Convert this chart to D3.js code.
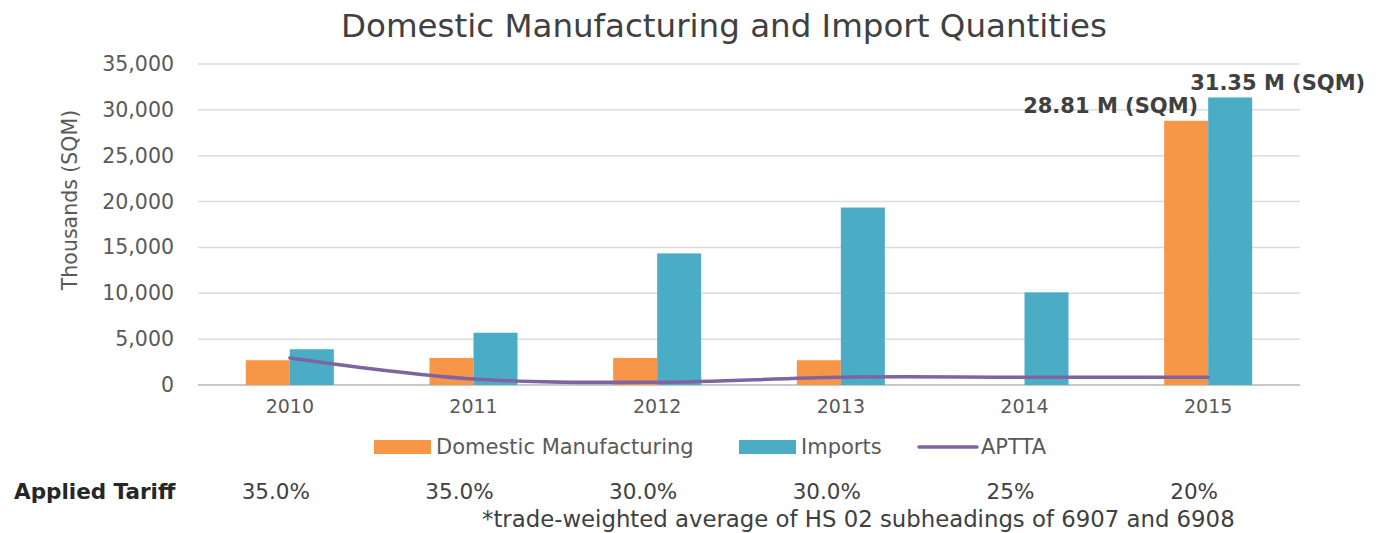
<!DOCTYPE html>
<html>
<head>
<meta charset="utf-8">
<script src="https://cdn.jsdelivr.net/npm/d3@7"></script>
<style>
  body { margin: 0; background: #ffffff; }
  text { font-family: "DejaVu Sans", sans-serif; }
</style>
</head>
<body>
<svg id="chart"></svg>
<script>
const width = 1383, height = 533
const margin = {
    top: 64,
    bottom: 148,
    left: 198,
    right: 83,
}

// data (thousands of SQM)
const years = ["2010", "2011", "2012", "2013", "2014", "2015"]
const domestic = [2700, 2950, 2950, 2700, 0, 28810]
const imports = [3900, 5700, 14350, 19350, 10100, 31350]
const aptta = [2950, 650, 300, 850, 850, 850]
const tariffs = ["35.0%", "35.0%", "30.0%", "30.0%", "25%", "20%"]
const yTicks = [0, 5000, 10000, 15000, 20000, 25000, 30000, 35000]
const seriesNames = ["Domestic Manufacturing", "Imports"]

const colors = {
    "Domestic Manufacturing": "#f79646",
    "Imports": "#4bacc6",
    "APTTA": "#8064a2",
}

const svg = d3.select("svg#chart")
    .attr("width", width)
    .attr("height", height)
    .attr("viewBox", [0, 0, width, height])

const xScale = d3.scaleBand()
    .domain(years)
    .range([margin.left, width - margin.right])
    .padding(0)

const bw = xScale.bandwidth()
const barW = 44

const xSub = d3.scaleBand()
    .domain(seriesNames)
    .range([bw / 2 - barW, bw / 2 + barW])

const yScale = d3.scaleLinear()
    .domain([0, 35000])
    .range([height - margin.bottom, margin.top])

// gridlines
svg.append("g")
    .selectAll("line")
    .data(yTicks)
    .join("line")
    .attr("x1", margin.left)
    .attr("x2", width - margin.right)
    .attr("y1", d => yScale(d))
    .attr("y2", d => yScale(d))
    .attr("stroke", d => d === 0 ? "#c8c8c8" : "#dcdcdc")
    .attr("stroke-width", d => d === 0 ? 2 : 1.5)

// y axis labels
const yAxis = svg.append("g")
    .attr("transform", `translate(${margin.left - 21}, 0)`)
    .call(d3.axisLeft(yScale).tickValues(yTicks).tickFormat(d3.format(",")).tickSize(0))
yAxis.select(".domain").remove()
yAxis.selectAll("text")
    .attr("font-family", "DejaVu Sans")
    .attr("font-size", 20.5)
    .attr("fill", "#595959")

svg.append("text")
    .attr("transform", `translate(77, 200) rotate(-90)`)
    .attr("text-anchor", "middle")
    .attr("font-size", 20.5)
    .attr("fill", "#595959")
    .text("Thousands (SQM)")

// x axis labels
const xAxis = svg.append("g")
    .attr("transform", `translate(0, ${yScale(0) + 11})`)
    .call(d3.axisBottom(xScale).tickSize(0))
xAxis.select(".domain").remove()
xAxis.selectAll("text")
    .attr("font-family", "DejaVu Sans")
    .attr("font-size", 19)
    .attr("fill", "#595959")

// bars
const rows = years.map((y, i) => ({
    year: y,
    values: [
        { key: "Domestic Manufacturing", value: domestic[i] },
        { key: "Imports", value: imports[i] },
    ],
}))

svg.append("g")
    .selectAll("g.bar")
    .data(rows)
    .join("g").attr("class", "bar")
    .attr("transform", d => `translate(${xScale(d.year)}, 0)`)
    .selectAll("rect")
    .data(d => d.values)
    .join("rect")
    .attr("x", d => xSub(d.key))
    .attr("width", xSub.bandwidth())
    .attr("y", d => yScale(d.value))
    .attr("height", d => yScale(0) - yScale(d.value))
    .attr("fill", d => colors[d.key])

// APTTA line
const line = d3.line()
    .x((d, i) => xScale(years[i]) + bw / 2)
    .y(d => yScale(d))
    .curve(d3.curveCatmullRom.alpha(0.5))

svg.append("path")
    .datum(aptta)
    .attr("d", line)
    .attr("fill", "none")
    .attr("stroke", colors["APTTA"])
    .attr("stroke-width", 3.5)
    .attr("stroke-linecap", "round")

// 2015 callouts
const last = years.length - 1
svg.append("text")
    .attr("x", xScale(years[last]) + xSub("Imports") - 18)
    .attr("y", yScale(imports[last]) - 7)
    .attr("font-size", 21)
    .attr("font-weight", "bold")
    .attr("fill", "#404040")
    .text("31.35 M (SQM)")

svg.append("text")
    .attr("x", xScale(years[last]) + xSub("Domestic Manufacturing") + xSub.bandwidth() - 10)
    .attr("y", yScale(domestic[last]) - 8)
    .attr("text-anchor", "end")
    .attr("font-size", 21)
    .attr("font-weight", "bold")
    .attr("fill", "#404040")
    .text("28.81 M (SQM)")

// title
svg.append("text")
    .attr("x", 724)
    .attr("y", 37)
    .attr("text-anchor", "middle")
    .attr("font-family", "Open Sans")
    .attr("font-size", 32.5)
    .attr("fill", "#404040")
    .text("Domestic Manufacturing and Import Quantities")

// legend
const legendItems = [
    { key: "Domestic Manufacturing", x: 374, type: "rect" },
    { key: "Imports", x: 739, type: "rect" },
    { key: "APTTA", x: 919, type: "line" },
]
const legendY = 447

const legend = svg.append("g")
    .selectAll("g.legend")
    .data(legendItems)
    .join("g").attr("class", "legend")

legend.filter(d => d.type === "rect")
    .append("rect")
    .attr("x", d => d.x)
    .attr("y", legendY - 7)
    .attr("width", 57)
    .attr("height", 14)
    .attr("fill", d => colors[d.key])

legend.filter(d => d.type === "line")
    .append("line")
    .attr("x1", d => d.x)
    .attr("x2", d => d.x + 58)
    .attr("y1", legendY)
    .attr("y2", legendY)
    .attr("stroke", d => colors[d.key])
    .attr("stroke-width", 3.5)
    .attr("stroke-linecap", "round")

legend.append("text")
    .attr("x", d => d.x + 62)
    .attr("y", legendY + 7)
    .attr("font-size", 21)
    .attr("fill", "#595959")
    .text(d => d.key)

// applied tariff row
svg.append("text")
    .attr("x", 14)
    .attr("y", 499)
    .attr("font-size", 21.5)
    .attr("font-weight", "bold")
    .attr("fill", "#262626")
    .text("Applied Tariff")

svg.append("g")
    .selectAll("text")
    .data(tariffs)
    .join("text")
    .attr("x", (d, i) => xScale(years[i]) + bw / 2 - 14)
    .attr("y", 499)
    .attr("text-anchor", "middle")
    .attr("font-size", 21.5)
    .attr("fill", "#404040")
    .text(d => d)

svg.append("text")
    .attr("x", 482)
    .attr("y", 527)
    .attr("font-size", 22.8)
    .attr("fill", "#404040")
    .text("*trade-weighted average of HS 02 subheadings of 6907 and 6908")
</script>
</body>
</html>
